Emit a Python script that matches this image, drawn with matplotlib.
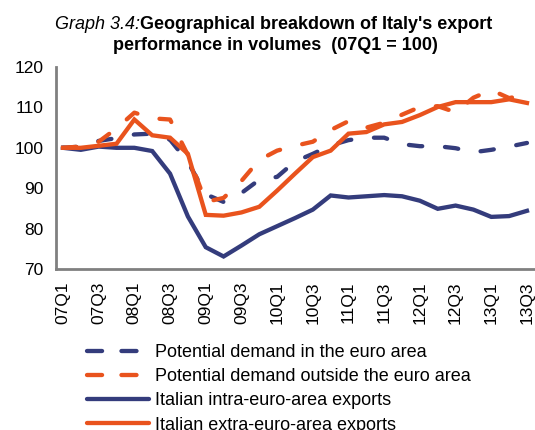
""" Italy's export performance by geographical area, 07Q1 = 100. """

import matplotlib
matplotlib.use('Agg')

import matplotlib.pyplot as plt
from matplotlib.lines import Line2D

NAVY = '#343c7c'
ORANGE = '#e9531d'

quarters = ['07Q1', '07Q2', '07Q3', '07Q4', '08Q1', '08Q2', '08Q3', '08Q4',
            '09Q1', '09Q2', '09Q3', '09Q4', '10Q1', '10Q2', '10Q3', '10Q4',
            '11Q1', '11Q2', '11Q3', '11Q4', '12Q1', '12Q2', '12Q3', '12Q4',
            '13Q1', '13Q2', '13Q3']

tick_labels = ['07Q1', '07Q3', '08Q1', '08Q3', '09Q1', '09Q3', '10Q1',
               '10Q3', '11Q1', '11Q3', '12Q1', '12Q3', '13Q1', '13Q3']

demand_euro = [100, 100.3, 101.7, 102.4, 103.3, 103.5, 102.0, 96.5,
               88.5, 86.6, 88.8, 92.1, 92.8, 96.6, 98.5, 100.6,
               101.9, 102.5, 102.5, 100.9, 100.4, 100.4, 99.9, 98.9,
               99.5, 100.3, 101.2]

demand_extra = [100, 100.3, 101.5, 104.8, 108.7, 107.3, 107.0, 98.2,
                86.6, 87.6, 91.8, 97.0, 99.3, 100.5, 101.5, 104.4,
                106.6, 105.0, 106.2, 108.2, 110.1, 110.3, 108.8, 112.4,
                114.3, 112.3, 113.2]

exports_intra = [100, 99.5, 100.3, 100.0, 100.0, 99.2, 93.6, 83.0,
                 75.4, 73.1, 75.8, 78.6, 80.6, 82.6, 84.7, 88.2,
                 87.7, 88.0, 88.3, 88.0, 86.9, 84.9, 85.7, 84.7,
                 82.9, 83.1, 84.4]

exports_extra = [100, 100.0, 100.5, 101.0, 107.0, 103.1, 102.5, 98.5,
                 83.4, 83.2, 84.0, 85.4, 89.4, 93.6, 97.7, 99.3,
                 103.5, 103.9, 105.8, 106.4, 108.1, 110.1, 111.3, 111.3,
                 111.3, 112.0, 111.1]

labels = ['Potential demand in the euro area',
          'Potential demand outside the euro area',
          'Italian intra-euro-area exports',
          'Italian extra-euro-area exports']

plt.rcParams['font.family'] = ['Liberation Sans', 'DejaVu Sans']

fig = plt.figure(figsize=(5.35, 4.3), dpi=100)
ax = fig.add_axes([0.1047, 0.3744, 0.8953, 0.4698])

x = range(len(quarters))
dash = (0, (3.1, 5.3))
ax.plot(x, demand_euro, color=NAVY, lw=3.1, ls=dash, dash_capstyle='round')
ax.plot(x, demand_extra, color=ORANGE, lw=3.1, ls=dash, dash_capstyle='round')
ax.plot(x, exports_intra, color=NAVY, lw=3.1, solid_joinstyle='miter')
ax.plot(x, exports_extra, color=ORANGE, lw=3.1, solid_joinstyle='miter')

ax.set_xlim(-0.39, 26.45)
ax.set_ylim(70, 120)
ax.set_yticks([70, 80, 90, 100, 110, 120])
ax.set_xticks(range(0, len(quarters), 2))
ax.set_xticklabels(tick_labels, rotation=90)
ax.tick_params(length=0, labelsize=12.5, pad=9)

for side in ['top', 'right']:
    ax.spines[side].set_visible(False)
for side in ['left', 'bottom']:
    ax.spines[side].set_color('#808080')
    ax.spines[side].set_linewidth(2)

# legend handles: two dashes per handle, like the original
legend_dash = (0, (3.5, 4.5))
handles = [Line2D([], [], color=NAVY, lw=3.1, ls=legend_dash, dash_capstyle='round'),
           Line2D([], [], color=ORANGE, lw=3.1, ls=legend_dash, dash_capstyle='round'),
           Line2D([], [], color=NAVY, lw=3.1, solid_capstyle='round'),
           Line2D([], [], color=ORANGE, lw=3.1, solid_capstyle='round')]
fig.legend(handles, labels, loc='upper left', bbox_to_anchor=(0.163, 0.2),
           frameon=False, fontsize=13, handlelength=3.4, handletextpad=0.33,
           labelspacing=0.4, borderpad=0, borderaxespad=0)

fig.text(0.262, 1 - 29 / 430, 'Graph 3.4:', style='italic', fontsize=13,
         ha='right', va='baseline')
fig.text(0.262, 1 - 29 / 430, "Geographical breakdown of Italy's export",
         weight='bold', fontsize=13, ha='left', va='baseline')
fig.text(0.514, 1 - 50 / 430, 'performance in volumes  (07Q1 = 100)',
         weight='bold', fontsize=13, ha='center', va='baseline')

fig.savefig('out.png', dpi=100)
